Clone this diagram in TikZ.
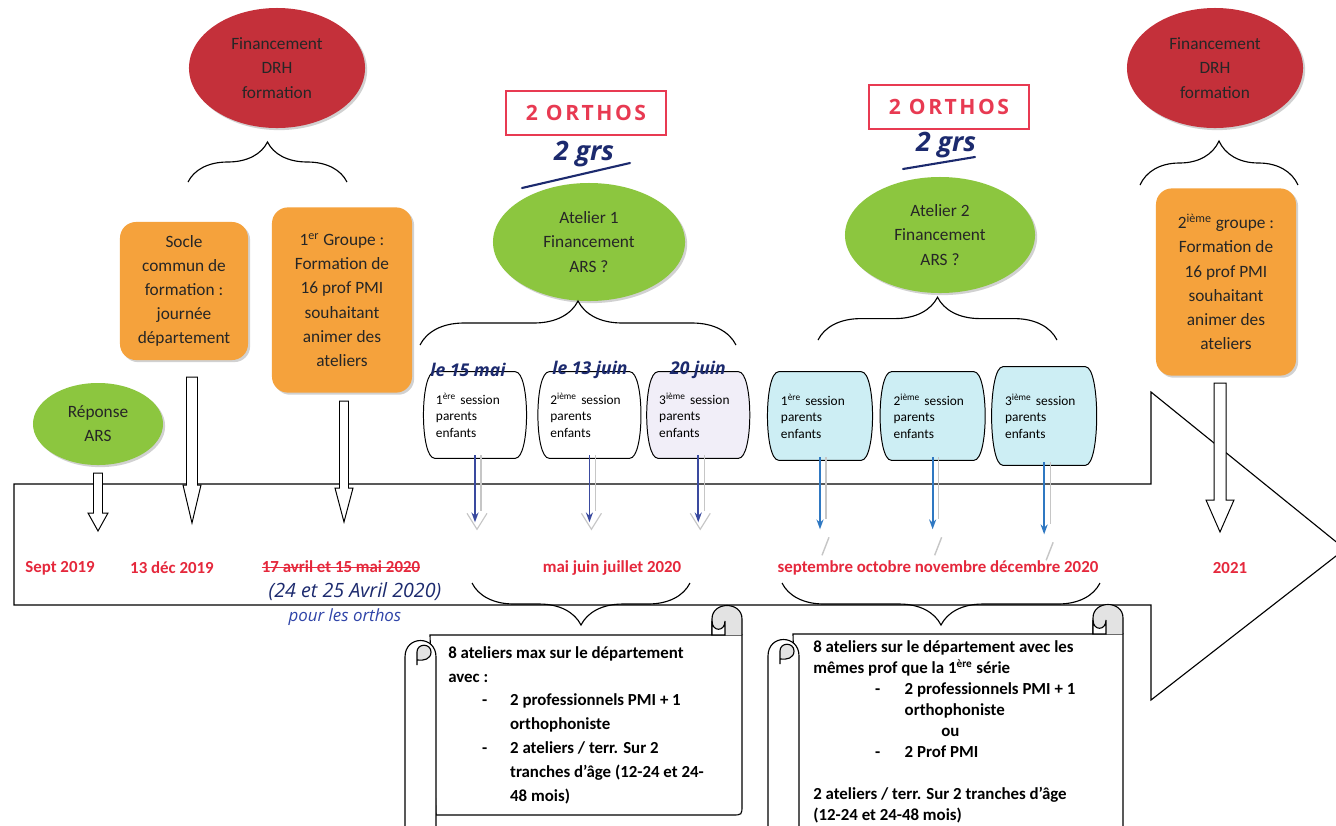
\documentclass[tikz,border=0pt]{standalone}
\usepackage{fontspec}
\setmainfont{Carlito}
\newfontfamily\handfont{Open Sans}
\usetikzlibrary{shapes.geometric,decorations.pathreplacing,backgrounds,shadows,arrows.meta,positioning,calc}

\definecolor{drhred}{HTML}{C4303A}
\definecolor{arsgreen}{HTML}{8CC63F}
\definecolor{formorange}{HTML}{F5A23C}
\definecolor{datered}{HTML}{E5283C}
\definecolor{inkblue}{HTML}{1C2A6E}
\definecolor{penblue}{HTML}{2F44A8}
\definecolor{arrblue}{HTML}{3A4A9F}
\definecolor{arrcyan}{HTML}{2F78C2}
\definecolor{sesscyan}{HTML}{CDEEF4}
\definecolor{sesslav}{HTML}{F1EEF8}
\definecolor{markred}{HTML}{E83A52}

% hollow block arrow: x, top, head start, tip, half shaft, half head
\newcommand{\blockarrow}[6]{%
  \draw[blockarr] (#1-#5,#2) -- (#1+#5,#2) -- (#1+#5,#3) -- (#1+#6,#3) -- (#1,#4) -- (#1-#6,#3) -- (#1-#5,#3) -- cycle;}

% horizontal scroll: left, right, top, sheet height
\newcommand{\scrollshape}[4]{%
  \draw[scrl] (#1+25,#3+30) -- (#2,#3+30) -- (#2,#3+#4-10) .. controls (#2,#3+#4) .. (#2-10,#3+#4) -- (#1+31,#3+#4) -- cycle;
  \draw[scrl] (#1,#3+260) -- (#1,#3+52) .. controls (#1,#3+30) and (#1+31,#3+30) .. (#1+31,#3+52) -- (#1+31,#3+260);
  \draw[scrl, fill=gray!22] (#1+12,#3+60) -- (#1+12,#3+47) .. controls (#1+12,#3+38) and (#1+26,#3+38) .. (#1+26,#3+47) .. controls (#1+26,#3+54) and (#1+19,#3+56) .. (#1+12,#3+55);
  \draw[scrl, fill=gray!22] (#2-30,#3+30) -- (#2-30,#3+14) .. controls (#2-30,#3-4) and (#2,#3-4) .. (#2,#3+14) -- (#2,#3+30);
  \draw[scrl, fill=white] (#2-30,#3+16) .. controls (#2-30,#3+27) and (#2-17,#3+27) .. (#2-17,#3+16) -- (#2-17,#3+30) -- (#2-30,#3+30) -- cycle;}

\begin{document}
\begin{tikzpicture}[x=0.025cm, y=-0.025cm, node distance=7pt,
  txt/.style={font=\fontsize{12.3}{17.2}\selectfont, align=center, text=black!85, inner sep=0pt},
  shad/.style={drop shadow={shadow xshift=1.5pt, shadow yshift=-1.5pt, fill=black!40, opacity=.45}},
  drh/.style={txt, ellipse, fill=drhred, minimum width=4.4cm, minimum height=3cm, shad},
  ars/.style={txt, ellipse, fill=arsgreen, shad},
  form/.style={txt, rounded corners=0.4cm, fill=formorange, shad},
  sess/.style={font=\fontsize{9.5}{11.7}\selectfont, align=left, text width=1.95cm, minimum width=2.6cm, minimum height=2.15cm, inner sep=0pt},
  barrel/.style={draw=black, line width=0.7pt},
  date/.style={font=\bfseries\fontsize{12}{14}\selectfont, text=datered, inner sep=0pt},
  hand/.style={font=\handfont\itshape\fontsize{14}{16}\selectfont, text=inkblue, inner sep=0pt},
  handdate/.style={font=\handfont\itshape\bfseries\fontsize{12.5}{14}\selectfont, text=inkblue, inner sep=0pt},
  ortho/.style={draw=markred, line width=1.3pt, text=markred, minimum width=4cm, minimum height=1.1cm, font=\handfont\bfseries\fontsize{15}{18}\selectfont\addfontfeature{LetterSpace=12}},
  grs/.style={font=\handfont\itshape\bfseries\fontsize{19}{22}\selectfont, text=inkblue, inner sep=0pt},
  blockarr/.style={draw=black, line width=0.7pt, fill=white},
  scrl/.style={draw=black, line width=0.8pt, fill=white},
  brc/.style={draw=black, line width=0.8pt, decorate},
  sarrow/.style={line width=1.3pt, -{Stealth[length=7pt,width=5pt]}},
  ghost/.style={draw=gray!45, line width=0.8pt},
  scrtxt/.style={font=\bfseries\fontsize{12}{17}\selectfont, align=left, inner sep=0pt, anchor=north west}]

\useasboundingbox (0,0) rectangle (1336,825);

% timeline arrow
\draw[line width=0.8pt] (14,484) -- (1151,484) -- (1151,392) -- (1345,549) -- (1151,700) -- (1151,605) -- (14,605) -- cycle;

% funding and training
\node[drh] (drh1) at (277,68) {Financement\\DRH\\formation};
\node[drh] (drh2) at (1215,68) {Financement\\DRH\\formation};
\node[form, minimum width=3.2cm, minimum height=3.45cm] (socle) at (184,291) {Socle\\commun de\\formation :\\journée\\département};
\node[form, minimum width=3.5cm, minimum height=4.63cm] (grp1) at (342,300) {1\textsuperscript{er} Groupe :\\Formation de\\16 prof PMI\\souhaitant\\animer des\\ateliers};
\node[form, minimum width=3.5cm, minimum height=4.68cm] (grp2) at (1226,282) {2\textsuperscript{ième} groupe :\\Formation de\\16 prof PMI\\souhaitant\\animer des\\ateliers};
\node[ars, minimum width=3.25cm, minimum height=2.05cm] (rep) at (98,424) {Réponse\\ARS};
\node[ars, minimum width=4.8cm, minimum height=2.95cm] (at1) at (589,242) {Atelier 1\\Financement\\ARS ?};
\node[ars, minimum width=4.75cm, minimum height=2.9cm] (at2) at (940,235) {Atelier 2\\Financement\\ARS ?};

% braces
\draw[brc, decoration={brace, amplitude=1cm}] (188,182) -- (347,182);
\draw[brc, decoration={brace, amplitude=1.1cm}] (1140,185) -- (1298,185);
\draw[brc, decoration={brace, amplitude=1.1cm}] (420,345) -- (736,345);
\draw[brc, decoration={brace, amplitude=1.07cm}] (818,340) -- (1057,340);
\draw[brc, decoration={brace, amplitude=1.05cm}] (690,583) -- (472,583);
\draw[brc, decoration={brace, amplitude=1.05cm}] (1100,583) -- (782,583);

% sessions
\node[sess] (s1) at (475,415) {1\textsuperscript{ère} session\\parents\\enfants};
\node[sess, right=of s1] (s2) {2\textsuperscript{ième} session\\parents\\enfants};
\node[sess, right=3pt of s2] (s3) {3\textsuperscript{ième} session\\parents\\enfants};
\node[sess, minimum width=2.65cm, minimum height=2.2cm] (s4) at (820,416) {1\textsuperscript{ère} session\\parents\\enfants};
\node[sess, minimum width=2.65cm, minimum height=2.2cm, right=4.3pt of s4] (s5) {2\textsuperscript{ième} session\\parents\\enfants};
\node[sess, minimum width=2.65cm, minimum height=2.45cm, right=3.5pt of s5] (s6) {3\textsuperscript{ième} session\\parents\\enfants};

\begin{scope}[on background layer]
\fill[white] (0,0) rectangle (1336,825);
\foreach \s/\c in {s1/white, s2/white, s3/sesslav, s4/sesscyan, s5/sesscyan, s6/sesscyan}
  \draw[barrel, fill=\c] ($(\s.north west)+(12,0)$) -- ($(\s.north east)+(-12,0)$) .. controls ($(\s.north east)+(3,0)$) and ($(\s.south east)+(3,0)$) .. ($(\s.south east)+(-12,0)$) -- ($(\s.south west)+(12,0)$) .. controls ($(\s.south west)+(-3,0)$) and ($(\s.north west)+(-3,0)$) .. cycle;
\end{scope}

\node[handdate] (hd1) at (468,370) {le 15 mai};
\node[handdate] (hd2) at (590,370) {le 13 juin};
\node[handdate] (hd3) at (698,370) {20 juin};

\foreach \s in {s1,s2,s3}{
  \draw[ghost] ($(\s.south)+(6,-3)$) -- ++(0,56);
  \draw[sarrow, arrblue] ($(\s.south)+(0,-3)$) -- ++(0,67);
  \draw[ghost] ($(\s.south)+(-8,55)$) -- ($(\s.south)+(2,71)$) -- ($(\s.south)+(12,55)$);
}
\foreach \s in {s4,s5,s6}{
  \draw[ghost] ($(\s.south)+(6,-3)$) -- ++(0,62);
  \draw[sarrow, arrcyan] ($(\s.south)+(0,-3)$) -- ++(0,72);
  \draw[ghost, line width=1pt] ($(\s.south)+(2,95)$) -- ($(\s.south)+(9,77)$);
}

% hollow arrows to the timeline
\blockarrow{98}{473}{513}{531}{4.5}{10}
\blockarrow{192}{377}{485}{523}{5.5}{9}
\blockarrow{344}{401}{488}{522}{4.5}{9}
\blockarrow{1220}{383}{500}{532}{6}{14}

% dates
\node[date] (d1) at (60,568) {Sept 2019};
\node[date] (d2) at (172,568) {13 déc 2019};
\node[date] (d3) at (341,567) {17 avril et 15 mai 2020};
\draw[datered, line width=0.7pt] (d3.west) -- (d3.east);
\node[date] (d4) at (612,568) {mai juin juillet 2020};
\node[date] (d5) at (938,568) {septembre octobre novembre décembre 2020};
\node[date] (d6) at (1230,568) {2021};

\node[hand] (apr) at (355,592) {(24 et 25 Avril 2020)};
\node[hand, font=\handfont\itshape\fontsize{12}{14}\selectfont, text=penblue] (orth) at (345,617) {pour les orthos};

% handwritten notes
\node[ortho] (or1) at (586,113) {2 ORTHOS};
\node[grs] (g1) at (584,154) {2 grs};
\draw[inkblue, line width=1.5pt, line cap=round] (522,188) -- (630,163);
\node[ortho] (or2) at (949,107) {2 ORTHOS};
\node[grs] (g2) at (946,145) {2 grs};
\draw[inkblue, line width=1.5pt, line cap=round] (903,169) -- (975,157);

% scrolls
\scrollshape{405}{742}{605}{210}
\scrollshape{768}{1123}{604}{250}
\node[scrtxt] (sc1) at (448,646) {8 ateliers max sur le département\\
avec :\\
\makebox[44pt][l]{\hspace*{24pt}-}2 professionnels PMI + 1\\
\hspace*{44pt}orthophoniste\\
\makebox[44pt][l]{\hspace*{24pt}-}2 ateliers / terr. Sur 2\\
\hspace*{44pt}tranches d’âge (12-24 et 24-\\
\hspace*{44pt}48 mois)};
\node[scrtxt, font=\bfseries\fontsize{12}{15}\selectfont] (sc2) at (813,640) {8 ateliers sur le département avec les\\
mêmes prof que la 1\textsuperscript{ère} série\\
\makebox[65pt][l]{\hspace*{44pt}-}2 professionnels PMI + 1\\
\hspace*{65pt}orthophoniste\\
\hspace*{91pt}ou\\
\makebox[65pt][l]{\hspace*{44pt}-}2 Prof PMI\\[15pt]
2 ateliers / terr. Sur 2 tranches d’âge\\
(12-24 et 24-48 mois)};
\end{tikzpicture}
\end{document}
